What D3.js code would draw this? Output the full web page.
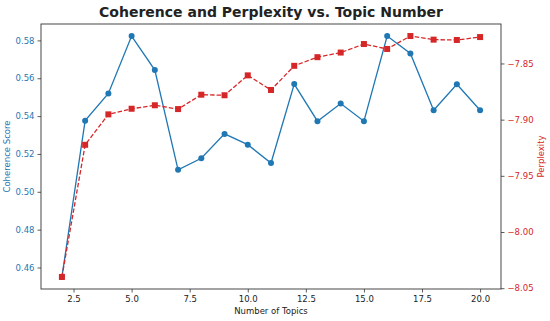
<!DOCTYPE html>
<html>
<head>
<meta charset="utf-8">
<script src="https://cdn.jsdelivr.net/npm/d3@7"></script>
<style>
  body { margin: 0; background: #fff; }
  text { font-family: "DejaVu Sans", sans-serif; }
</style>
</head>
<body>
<div id="chart"></div>
<script>
// topic counts
const topics = [2, 3, 4, 5, 6, 7, 8, 9, 10, 11, 12, 13, 14, 15, 16, 17, 18, 19, 20];
// coherence per topic count
const coherence = [0.455, 0.5376, 0.552, 0.5823, 0.5643, 0.5116, 0.5177, 0.5306, 0.5249, 0.5152,
    0.5569, 0.5373, 0.5466, 0.5373, 0.5823, 0.5731, 0.5431, 0.5568, 0.5431];
// perplexity per topic count
const perplexity = [-8.04, -7.9224, -7.8953, -7.8903, -7.8872, -7.8906, -7.8778, -7.8783, -7.8606, -7.8736,
    -7.8521, -7.8444, -7.8403, -7.8327, -7.8371, -7.8256, -7.8288, -7.8291, -7.8265];
const xTicks = [2.5, 5, 7.5, 10, 12.5, 15, 17.5, 20];
const leftTicks = [0.46, 0.48, 0.50, 0.52, 0.54, 0.56, 0.58];
const rightTicks = [-8.05, -8.00, -7.95, -7.90, -7.85];

const blue = "#1f77b4";
const red = "#d62728";

const width = 550, height = 321;
const margin = { top: 24, right: 49, bottom: 32, left: 41 };
const w = width - margin.left - margin.right;
const h = height - margin.top - margin.bottom;

const svg = d3.select("#chart").append("svg")
    .attr("width", width)
    .attr("height", height);

const g = svg.append("g")
    .attr("transform", `translate(${margin.left},${margin.top})`);

function padded(lo, hi) {
    const m = (hi - lo) * 0.05;
    return [lo - m, hi + m];
}

const x = d3.scaleLinear()
    .domain(padded(d3.min(topics), d3.max(topics)))
    .range([0, w]);
const yL = d3.scaleLinear()
    .domain(padded(d3.min(coherence), d3.max(coherence)))
    .range([h, 0]);
const yR = d3.scaleLinear()
    .domain(padded(d3.min(perplexity), d3.max(perplexity)))
    .range([h, 0]);

// axes
const xAxis = g.append("g")
    .attr("transform", `translate(0,${h})`)
    .call(d3.axisBottom(x).tickValues(xTicks).tickFormat(d3.format(".1f")).tickSize(3.5).tickPadding(3));
const lAxis = g.append("g")
    .call(d3.axisLeft(yL).tickValues(leftTicks).tickFormat(d3.format(".2f")).tickSize(3.5).tickPadding(3));
const rAxis = g.append("g")
    .attr("transform", `translate(${w},0)`)
    .call(d3.axisRight(yR).tickValues(rightTicks).tickFormat(d3.format(".2f")).tickSize(3.5).tickPadding(3));

[xAxis, lAxis, rAxis].forEach(a => {
    a.select(".domain").remove();
    a.selectAll("line").attr("stroke", "#333").attr("stroke-width", 0.8);
    a.selectAll("text").style("font-size", "8.5px").attr("font-family", "DejaVu Sans");
});
xAxis.selectAll("text").attr("fill", "#222");
lAxis.selectAll("text").attr("fill", blue);
rAxis.selectAll("text").attr("fill", red);

// frame
g.append("rect")
    .attr("width", w)
    .attr("height", h)
    .attr("fill", "none")
    .attr("stroke", "#333")
    .attr("stroke-width", 0.9);

// coherence line
const cData = topics.map((t, i) => ({ t, v: coherence[i] }));
const pData = topics.map((t, i) => ({ t, v: perplexity[i] }));

g.append("path")
    .datum(cData)
    .attr("fill", "none")
    .attr("stroke", blue)
    .attr("stroke-width", 1.3)
    .attr("d", d3.line().x(d => x(d.t)).y(d => yL(d.v)));
g.selectAll(".coh")
    .data(cData)
    .enter().append("circle")
    .attr("class", "coh")
    .attr("cx", d => x(d.t))
    .attr("cy", d => yL(d.v))
    .attr("r", 3)
    .attr("fill", blue);

// perplexity line
g.append("path")
    .datum(pData)
    .attr("fill", "none")
    .attr("stroke", red)
    .attr("stroke-width", 1.3)
    .attr("stroke-dasharray", "4.5,2")
    .attr("d", d3.line().x(d => x(d.t)).y(d => yR(d.v)));
g.selectAll(".perp")
    .data(pData)
    .enter().append("rect")
    .attr("class", "perp")
    .attr("x", d => x(d.t) - 3)
    .attr("y", d => yR(d.v) - 3)
    .attr("width", 6)
    .attr("height", 6)
    .attr("fill", red);

// title
svg.append("text")
    .attr("x", margin.left + w / 2)
    .attr("y", 17)
    .attr("text-anchor", "middle")
    .style("font-size", "14px")
    .style("font-weight", "bold")
    .attr("fill", "#222")
    .text("Coherence and Perplexity vs. Topic Number");

// axis labels
svg.append("text")
    .attr("x", margin.left + w / 2)
    .attr("y", height - 7)
    .attr("text-anchor", "middle")
    .style("font-size", "8.5px")
    .attr("fill", "#222")
    .text("Number of Topics");

svg.append("text")
    .attr("transform", `translate(10,${margin.top + h / 2}) rotate(-90)`)
    .attr("text-anchor", "middle")
    .style("font-size", "8.5px")
    .attr("fill", blue)
    .text("Coherence Score");

svg.append("text")
    .attr("transform", `translate(544,${margin.top + h / 2}) rotate(-90)`)
    .attr("text-anchor", "middle")
    .style("font-size", "8.5px")
    .attr("fill", red)
    .text("Perplexity");
</script>
</body>
</html>
